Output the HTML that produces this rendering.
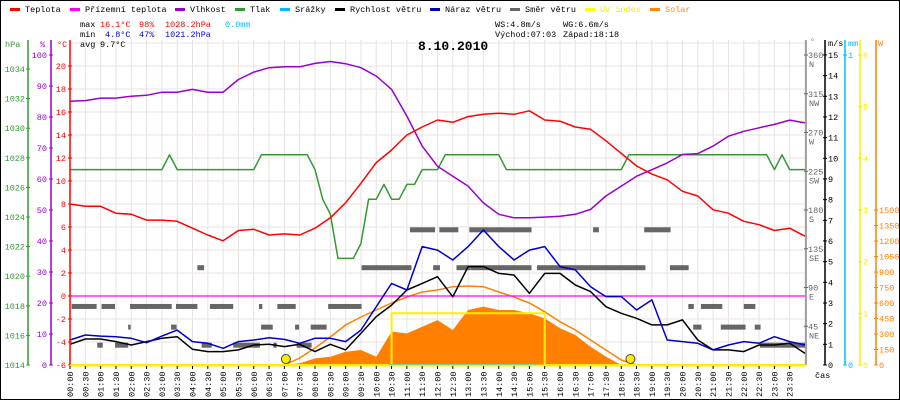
<!DOCTYPE html>
<html><head><meta charset="utf-8"><style>
body{margin:0;background:#fff}
svg{display:block;font-family:"Liberation Mono",monospace;font-size:8.5px}
</style></head><body>
<svg id="c" width="900" height="400" viewBox="0 0 900 400">
<rect x="0.5" y="0.5" width="899" height="399" fill="#fff" stroke="#000"/>
<g id="grid"></g>
<g id="series"></g>
<g id="axes"></g>
<g>
<rect x="10" y="8" width="10" height="3" fill="#f00"/><text x="25" y="12">Teplota</text>
<rect x="70" y="8" width="10" height="3" fill="#f0f"/><text x="85" y="12">Přízemní teplota</text>
<rect x="175" y="8" width="10" height="3" fill="#9900cc"/><text x="190" y="12">Vlhkost</text>
<rect x="235" y="8" width="10" height="3" fill="#339933"/><text x="250" y="12">Tlak</text>
<rect x="280" y="8" width="10" height="3" fill="#00bbff"/><text x="295" y="12">Srážky</text>
<rect x="335" y="8" width="10" height="3" fill="#000"/><text x="350" y="12">Rychlost větru</text>
<rect x="430" y="8" width="10" height="3" fill="#0000cc"/><text x="445" y="12">Náraz větru</text>
<rect x="510" y="8" width="10" height="3" fill="#666"/><text x="525" y="12">Směr větru</text>
<rect x="585" y="8" width="10" height="3" fill="#ff0"/><text x="600" y="12" fill="#ee0">UV index</text>
<rect x="650" y="8" width="10" height="3" fill="#f80"/><text x="665" y="12" fill="#f80">Solar</text>
</g>
<g>
<text x="80" y="27">max</text><text x="100" y="27" fill="#f00">16.1°C</text><text x="139" y="27" fill="#f00">98%</text><text x="165" y="27" fill="#f00">1028.2hPa</text><text x="225" y="27" fill="#00bbff">0.0mm</text>
<text x="80" y="37">min</text><text x="105" y="37" fill="#00c">4.8°C</text><text x="139" y="37" fill="#00c">47%</text><text x="165" y="37" fill="#00c">1021.2hPa</text>
<text x="80" y="47">avg</text><text x="100" y="47">9.7°C</text>
<text x="495" y="27">WS:4.8m/s</text><text x="563" y="27">WG:6.6m/s</text>
<text x="495" y="37">Východ:07:03</text><text x="563" y="37">Západ:18:18</text>
<text x="418" y="50" font-size="13" font-weight="bold">8.10.2010</text>
</g>
</svg>
<script>
const temp=[8.0,7.8,7.8,7.2,7.1,6.6,6.6,6.5,5.9,5.3,4.8,5.7,5.8,5.3,5.4,5.3,5.9,6.8,8.1,9.8,11.6,12.7,14.0,14.7,15.3,15.1,15.6,15.8,15.9,15.8,16.1,15.3,15.2,14.7,14.5,13.5,12.4,11.3,10.6,10.1,9.1,8.7,7.5,7.2,6.5,6.2,5.7,5.9,5.2];
const humidity=[85.1,85.3,86.1,86.1,86.7,87,88,88,88.9,88,88,92.1,94.5,95.9,96.2,96.2,97.3,97.9,97.2,95.9,93.2,88.9,80.3,70.6,64.1,60.9,57.7,52.3,48.6,47.5,47.5,47.7,48,48.6,50.2,54.5,57.7,60.9,63,65.2,67.9,68.2,70.6,73.8,75.4,76.5,77.6,79,78.1];
const pressure=[1027.2,1027.2,1027.2,1027.2,1027.2,1027.2,1027.2,1027.2,1027.2,1027.2,1027.2,1027.2,1027.2,1028.2,1027.2,1027.2,1027.2,1027.2,1027.2,1027.2,1027.2,1027.2,1027.2,1027.2,1027.2,1028.2,1028.2,1028.2,1028.2,1028.2,1028.2,1028.2,1027.2,1025.2,1024.2,1021.2,1021.2,1021.2,1022.2,1025.2,1025.2,1026.2,1025.2,1025.2,1026.2,1026.2,1027.2,1027.2,1027.2,1028.2,1028.2,1028.2,1028.2,1028.2,1028.2,1028.2,1028.2,1027.2,1027.2,1027.2,1027.2,1027.2,1027.2,1027.2,1027.2,1027.2,1027.2,1027.2,1027.2,1027.2,1027.2,1027.2,1027.2,1028.2,1028.2,1028.2,1028.2,1028.2,1028.2,1028.2,1028.2,1028.2,1028.2,1028.2,1028.2,1028.2,1028.2,1028.2,1028.2,1028.2,1028.2,1028.2,1027.2,1028.2,1027.2,1027.2,1027.2];
const windSpeed=[1.0,1.26,1.26,1.13,0.97,1.13,1.29,1.37,0.76,0.65,0.65,0.73,0.97,1.0,0.89,1.0,0.65,1.0,0.73,1.53,2.34,2.9,3.63,3.95,4.27,3.3,4.76,4.76,4.43,4.35,3.47,4.43,4.43,3.87,3.55,2.82,2.5,2.26,1.94,1.94,2.18,1.21,0.73,0.73,0.65,0.97,0.97,1.05,0.56];
const windGust=[1.21,1.45,1.4,1.37,1.29,1.08,1.4,1.69,1.13,1.05,0.81,1.13,1.21,1.32,1.24,1.05,1.29,1.29,1.13,1.69,2.82,3.95,3.63,5.73,5.56,5.08,5.73,6.53,5.73,5.08,5.56,5.73,4.76,4.6,3.79,3.31,3.31,2.66,3.15,1.21,1.13,1.05,0.73,0.97,1.13,1.05,1.37,1.13,0.97];
const apparentTemp=[0,0,0,0,0,0,0,0,0,0,0,0,0,0,0,0,0,0,0,0,0,0,0,0,0,0,0,0,0,0,0,0,0,0,0,0,0,0,0,0,0,0,0,0,0,0,0,0,0];
const solar=[0,0,0,0,0,0,0,0,0,0,0,0,0,0,0,16,64,80,129,145,80,323,306,370,435,339,532,565,532,532,500,452,355,290,177,81,0,0,0,0,0,0,0,0,0,0,0,0,0];
const solarTheory=[0,0,0,0,0,0,0,0,0,0,0,0,0,0,0,68,165,271,387,465,532,600,658,707,726,758,765,758,707,658,600,516,419,339,242,145,48,0,0,0,0,0,0,0,0,0,0,0,0];
const uvIndex=[0,0,0,0,0,0,0,0,0,0,0,0,0,0,0,0,0,0,0,0,0,1,1,1,1,1,1,1,1,1,1,0,0,0,0,0,0,0,0,0,0,0,0,0,0,0,0,0,0];
const dirStart=[0.05,1.03,1.96,3.46,4.57,6.17,6.77,8.43,20.19,20.6,22.0,1.9,3.3,6.24,7.35,7.86,20.35,21.25,22.36,0.89,1.47,4.3,5.33,6.64,7.4,22.53,4.16,9.52,11.86,12.62,13.07,15.25,19.59,11.1,12.06,13.04,17.08,18.75];
const dirEnd=[0.87,1.47,3.32,4.16,5.33,6.28,7.37,9.52,20.37,21.3,22.38,1.98,3.48,6.62,7.48,8.38,20.62,22.06,22.55,1.07,1.9,4.63,6.2,6.75,7.89,24,4.38,11.15,12.08,13.06,15.07,18.79,20.2,11.92,12.68,15.07,17.27,19.61];
const dirDeg=[68,68,68,68,68,68,68,68,68,68,68,44,44,44,44,44,44,44,44,23,23,23,23,23,23,23,113,113,113,113,113,113,113,157,157,157,157,157];
const sunTimes=[7.05,18.3];

const NS='http://www.w3.org/2000/svg';
const X=t=>70+t*30.625;
const yT=c=>365-(c+6)*11.5, yH=p=>365-p*3.1, yP=h=>365-(h-1014)*14.8, yW=v=>365-v*20.67;
const yD=d=>365-d*0.861, yS=w=>365-w*0.1033, yUV=u=>365-u*51.67, yR=m=>365-m*310;
function mk(tag,attrs,parent){const e=document.createElementNS(NS,tag);for(const k in attrs)e.setAttribute(k,attrs[k]);parent.appendChild(e);return e;}
const G=document.getElementById('grid'),S=document.getElementById('series'),A=document.getElementById('axes');
for(let i=0;i<=48;i++){const l=mk('line',{x1:X(i/2),x2:X(i/2),y1:40,y2:365,stroke:'#e8e2e2'},G);

}
for(let c=-4;c<=22;c+=2){const l=mk('line',{x1:70,x2:806,y1:yT(c),y2:yT(c),stroke:'#e8e2e2'},G);

}
function path(arr,step,yf,color,name,w){let d='';arr.forEach((v,i)=>{d+=(i?'L':'M')+X(i*step).toFixed(1)+' '+yf(v).toFixed(1);});
const p=mk('path',{d:d,fill:'none',stroke:color,'stroke-width':w||1.5,'stroke-linejoin':'round'},S);

return p;}
let sd='M'+X(0)+' 365';solar.forEach((v,i)=>{sd+='L'+X(i*0.5).toFixed(1)+' '+yS(v).toFixed(1);});sd+='L'+X(24)+' 365Z';
const sa=mk('path',{d:sd,fill:'#ff8000'},S);


path(solarTheory,0.5,yS,'#ff8000','solar-theory-line',1.5);
let ud='';uvIndex.forEach((v,i)=>{ud+=(i?'L'+X(i*0.5)+' '+yUV(uvIndex[i-1]).toFixed(1)+'L':'M')+X(i*0.5)+' '+yUV(v).toFixed(1);});
const uvp=mk('path',{d:ud,fill:'none',stroke:'#ffee00','stroke-width':2},S);


const rain=mk('line',{x1:X(10.4),x2:X(15.3),y1:yR(0),y2:yR(0),stroke:'#00bbff','stroke-width':2},S);


path(apparentTemp,0.5,yT,'#ff00ff','apparent-temp-line',1.2);
dirStart.forEach((s,i)=>{const r=mk('rect',{x:X(s),y:yD(dirDeg[i])-2.5,width:X(dirEnd[i])-X(s),height:5,fill:'#666'},S);

});
path(windSpeed,0.5,yW,'#000','wind-speed-line',1.5);
path(windGust,0.5,yW,'#0000cc','wind-gust-line',1.5);
path(pressure,0.25,yP,'#339933','pressure-line',1.5);
path(humidity,0.5,yH,'#9900cc','humidity-line',1.5);
path(temp,0.5,yT,'#ff0000','temperature-line',1.5);
sunTimes.forEach(t=>{const c=mk('circle',{cx:X(t),cy:359,r:4.5,fill:'#ffee00',stroke:'#444'},S);

});
function axis(x,color,y0,y1,name){const l=mk('line',{x1:x,x2:x,y1:y0,y2:y1,stroke:color,'stroke-width':1.5},A);

}
function tick(x,y,txt,color,anchor,tx,name){mk('line',{x1:x-2,x2:x+2,y1:y,y2:y,stroke:color},A);
const t=mk('text',{x:tx,y:y+3,fill:color,'text-anchor':anchor},A);t.textContent=txt;

}
axis(28,'#339933',40,365,'pressure-axis');axis(51,'#9900cc',40,365,'humidity-axis');axis(70,'#f00',40,365,'temperature-axis');
for(let h=1014;h<=1034;h+=2)tick(28,yP(h),String(h),'#339933','end',25,'pressure-tick');
for(let p=0;p<=100;p+=10)tick(51,yH(p),String(p),'#9900cc','end',47,'humidity-tick');
for(let c=-6;c<=20;c+=2)tick(70,yT(c),String(c),'#f00','end',66,'temperature-tick');
axis(806,'#888',40,365,'direction-axis');axis(825,'#000',40,365,'wind-axis');axis(845,'#00bbff',40,365,'rain-axis');axis(860,'#ffee00',40,365,'uv-axis');axis(876,'#ff8000',40,365,'solar-axis');
const dn={45:'NE',90:'E',135:'SE',180:'S',225:'SW',270:'W',315:'NW',360:'N'};
for(const d in dn){tick(806,yD(+d),d,'#666','start',808,'direction-tick');const t=mk('text',{x:809,y:yD(+d)+12,fill:'#666'},A);t.textContent=dn[d];

}
for(let v=0;v<=15;v++)tick(825,yW(v),String(v),'#000','start',828,'wind-tick');
tick(845,yR(0),'0','#00bbff','start',848,'rain-tick');tick(845,yR(1),'1','#00bbff','start',848,'rain-tick');
for(let u=0;u<=6;u++)tick(860,yUV(u),String(u),'#ee0','start',863,'uv-tick');
for(let w=0;w<=1500;w+=150)tick(876,yS(w),String(w),'#ff8000','start',879,'solar-tick');
const hdr=[[5,47,'hPa','#339933'],[40,47,'%','#9900cc'],[57,47,'°C','#f00'],[810,44,'°','#888'],[828,46,'m/s','#000'],[848,46,'mm','#00bbff'],[878,46,'W','#ff8000'],[815,378,'čas','#000']];
hdr.forEach(h=>{const t=mk('text',{x:h[0],y:h[1],fill:h[3]},A);t.textContent=h[2];

});
const bl=mk('line',{x1:70,x2:806,y1:365.5,y2:365.5,stroke:'#ffee00','stroke-width':2},A);


for(let i=0;i<48;i++){const x=X(i/2);mk('line',{x1:x,x2:x,y1:366,y2:369,stroke:'#000'},A);
const hh=String(Math.floor(i/2)).padStart(2,'0')+':'+(i%2?'30':'00');
const t=mk('text',{x:0,y:0,transform:'translate('+(x+3)+',397) rotate(-90)'},A);t.textContent=hh;

}
</script>
</body></html>
